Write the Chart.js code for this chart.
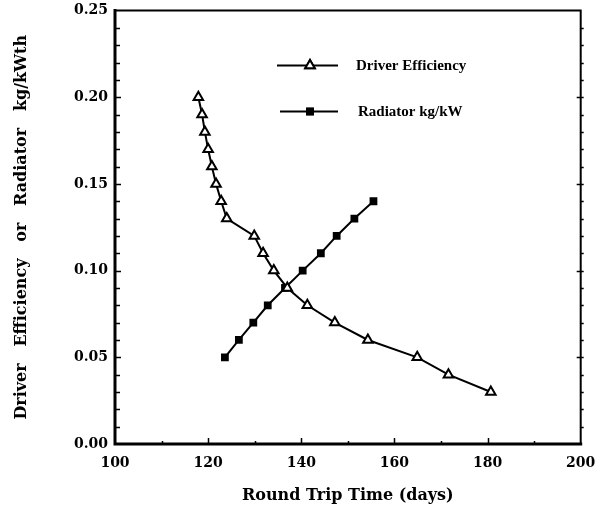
<!DOCTYPE html>
<html><head><meta charset="utf-8">
<script src="https://cdn.jsdelivr.net/npm/chart.js@4/dist/chart.umd.min.js"></script>
<style>html,body{margin:0;padding:0;background:#fff}#wrap{width:600px;height:509px}</style>
</head><body><div id="wrap"><canvas id="c" width="600" height="509"></canvas></div>
<script>
// Data
const driverTime = [117.9,118.7,119.3,120.0,120.8,121.7,122.8,124.0,129.9,131.8,134.1,137.0,141.3,147.2,154.3,164.9,171.6,180.7];
const driverEff  = [0.20,0.19,0.18,0.17,0.16,0.15,0.14,0.13,0.12,0.11,0.10,0.09,0.08,0.07,0.06,0.05,0.04,0.03];
const radTime = [123.6,126.6,129.7,132.8,136.5,140.3,144.2,147.6,151.4,155.5];
const radMass = [0.05,0.06,0.07,0.08,0.09,0.10,0.11,0.12,0.13,0.14];
const xTickValues = [100,120,140,160,180,200];
const yTickValues = [0.00,0.05,0.10,0.15,0.20,0.25];
const xMinorStep = 10;
const yMinorStep = 0.01;
const seriesNames = ['Driver Efficiency','Radiator kg/kW'];
const xTitle = 'Round Trip Time (days)';
const yTitle = 'Driver   Efficiency   or   Radiator   kg/kWth';

const tickFont = {family:'"DejaVu Serif"', weight:'bold', size:14};
const titleFont = {family:'"DejaVu Serif"', weight:'bold', size:16};

const framePlugin = {
  id:'frame',
  afterDraw(chart){
    const {ctx, chartArea:a, scales:{x,y}} = chart;
    ctx.save();
    ctx.strokeStyle = '#000';
    ctx.lineCap = 'square';
    ctx.lineWidth = 2;
    ctx.beginPath();
    ctx.moveTo(a.left, a.top); ctx.lineTo(a.right, a.top);
    ctx.moveTo(a.right, a.top); ctx.lineTo(a.right, a.bottom);
    ctx.stroke();
    ctx.lineWidth = 3;
    ctx.beginPath();
    ctx.moveTo(a.left, a.top); ctx.lineTo(a.left, a.bottom);
    ctx.moveTo(a.left, a.bottom); ctx.lineTo(a.right, a.bottom);
    ctx.stroke();
    ctx.lineWidth = 1.5;
    ctx.lineCap = 'butt';
    ctx.beginPath();
    for (let v = y.min + yMinorStep; v < y.max - 1e-9; v += yMinorStep) {
      const py = Math.round(y.getPixelForValue(v)) + 0.5;
      const major = Math.abs(v/0.05 - Math.round(v/0.05)) < 1e-6;
      ctx.moveTo(a.left, py); ctx.lineTo(a.left + (major?6:5), py);
      ctx.moveTo(a.right + 3, py); ctx.lineTo(a.right - (major?4:0), py);
    }
    for (let v = x.min + xMinorStep; v < x.max - 1e-9; v += xMinorStep) {
      const px = Math.round(x.getPixelForValue(v)) + 0.5;
      const major = (Math.round(v) % 20) === 0;
      ctx.moveTo(px, a.bottom + 1); ctx.lineTo(px, a.bottom - (major?6:3));
    }
    ctx.stroke();
    ctx.restore();
  }
};

const legendPlugin = {
  id:'customLegend',
  afterDatasetsDraw(chart){
    const {ctx, chartArea:a} = chart;
    ctx.save();
    chart.data.datasets.forEach((ds, i) => {
      const yy = a.top + 55 + i*46;
      const x0 = a.left + 162 + i*3, x1 = a.left + 223;
      ctx.strokeStyle = ds.borderColor; ctx.lineWidth = ds.borderWidth;
      ctx.beginPath(); ctx.moveTo(x0, yy); ctx.lineTo(x1, yy); ctx.stroke();
      Chart.helpers.drawPoint(ctx, {
        pointStyle: ds.pointStyle, radius: ds.pointRadius, rotation: 0,
        borderWidth: ds.pointBorderWidth
      }, a.left + 195, yy);
      ctx.fillStyle = ds.pointBackgroundColor;
      ctx.strokeStyle = ds.pointBorderColor;
      ctx.lineWidth = ds.pointBorderWidth;
      ctx.fill(); if (ds.pointBorderWidth) ctx.stroke();
      ctx.fillStyle = '#000';
      ctx.font = 'bold 15px "Liberation Serif"';
      ctx.textBaseline = 'middle';
      ctx.textAlign = 'left';
      ctx.fillText(ds.label, a.left + 241 + i*2, yy + 1);
    });
    ctx.restore();
  }
};

new Chart(document.getElementById('c'), {
  type:'scatter',
  data:{
    datasets:[
      {
        label: seriesNames[0],
        data: driverTime.map((t,i)=>({x:t, y:driverEff[i]})),
        showLine:true, borderColor:'#000', borderWidth:2,
        pointStyle:'triangle', pointRadius:5.5, pointBorderWidth:2,
        pointBackgroundColor:'#fff', pointBorderColor:'#000', tension:0
      },
      {
        label: seriesNames[1],
        data: radTime.map((t,i)=>({x:t, y:radMass[i]})),
        showLine:true, borderColor:'#000', borderWidth:2,
        pointStyle:'rect', pointRadius:5.5, pointBorderWidth:0,
        pointBackgroundColor:'#000', pointBorderColor:'#000', tension:0
      }
    ]
  },
  options:{
    responsive:false, animation:false, devicePixelRatio:1,
    layout:{padding:{top:10.5, right:19.3, left:0, bottom:0}},
    plugins:{legend:{display:false}, tooltip:{enabled:false}},
    scales:{
      x:{
        type:'linear', min:xTickValues[0], max:xTickValues[xTickValues.length-1],
        afterBuildTicks(s){ s.ticks = xTickValues.map(v=>({value:v})); },
        afterFit(s){ s.height = 65; s.paddingLeft = 0; s.paddingRight = 0; },
        grid:{display:false, drawTicks:false},
        border:{display:false},
        ticks:{color:'#000', font:tickFont, padding:11, maxRotation:0, autoSkip:false,
               callback:v=>String(v)},
        title:{display:true, text:xTitle, color:'#000', font:titleFont, padding:{top:0,bottom:4}}
      },
      y:{
        type:'linear', min:yTickValues[0], max:yTickValues[yTickValues.length-1],
        afterBuildTicks(s){ s.ticks = yTickValues.map(v=>({value:v})); },
        afterFit(s){ s.width = 115; s.paddingTop = 0; s.paddingBottom = 0; },
        grid:{display:false, drawTicks:false},
        border:{display:false},
        ticks:{color:'#000', font:tickFont, padding:7, autoSkip:false,
               callback:v=>Number(v).toFixed(2)},
        title:{display:true, text:yTitle, color:'#000', font:titleFont, padding:{top:12,bottom:0}}
      }
    }
  },
  plugins:[framePlugin, legendPlugin]
});
</script>
</body></html>
